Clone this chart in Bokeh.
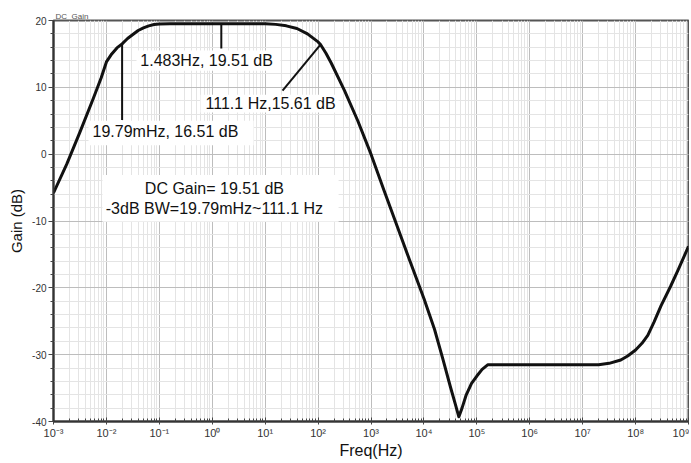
from bokeh.plotting import figure
from bokeh.models import FixedTicker, Label, BoxAnnotation, ColumnDataSource
from bokeh.embed import file_html
from bokeh.resources import INLINE

# ---- data ----
freq_hz = [0.001, 0.00178, 0.00316, 0.00562, 0.00794, 0.01, 0.0126, 0.0158, 0.01979,
           0.0251, 0.0316, 0.0398, 0.0501, 0.0631, 0.0794, 0.1, 0.158, 1.483, 10.0,
           15.85, 25.1, 39.8, 63.1, 79.4, 100.0, 111.1, 141.0, 178.0, 316.0, 562.0,
           1000.0, 1778.0, 3162.0, 5623.0, 10000.0, 15849.0, 22909.0, 31623.0, 39811.0,
           45709.0, 52481.0, 63096.0, 79433.0, 100000.0, 125893.0, 162181.0, 1.0e6,
           1.0e7, 2.0e7, 3.16e7, 5.25e7, 7.08e7, 1.0e8, 1.32e8, 1.7e8, 2.24e8, 3.02e8,
           4.57e8, 6.31e8, 1.0e9]
gain_db = [-5.8, -1.5, 3.3, 8.3, 11.4, 13.8, 15.0, 15.9, 16.51,
           17.3, 17.9, 18.5, 18.9, 19.2, 19.4, 19.48, 19.51, 19.51, 19.5,
           19.42, 19.2, 18.8, 18.0, 17.4, 16.8, 16.4, 15.1, 13.6, 9.5, 5.0,
           0.0, -5.5, -10.9, -16.3, -21.6, -26.2, -30.7, -34.8, -37.6,
           -39.3, -38.0, -36.0, -34.3, -33.2, -32.2, -31.5, -31.5,
           -31.5, -31.5, -31.3, -30.8, -30.2, -29.3, -28.3, -27.1, -25.1, -22.7,
           -19.8, -17.4, -13.8]

x_ticks = [1e-3, 1e-2, 1e-1, 1e0, 1e1, 1e2, 1e3, 1e4, 1e5, 1e6, 1e7, 1e8, 1e9]
x_tick_labels = ["10⁻³", "10⁻²", "10⁻¹", "10⁰", "10¹", "10²", "10³", "10⁴",
                 "10⁵", "10⁶", "10⁷", "10⁸", "10⁹"]
y_ticks = [-40, -30, -20, -10, 0, 10, 20]
y_tick_labels = ["-40", "-30", "-20", "-10", "0", "10", "20"]

marker_freq = [1.483, 0.01979, 111.1]
marker_gain = [19.51, 16.51, 16.4]
marker_texts = ["1.483Hz, 19.51 dB", "19.79mHz, 16.51 dB", "111.1 Hz,15.61 dB"]
summary_texts = ["DC Gain= 19.51 dB", "-3dB BW=19.79mHz~111.1 Hz"]

FONT = "Liberation Sans"

p = figure(width=689, height=461, x_axis_type="log", x_range=(1e-3, 1e9), y_range=(-40, 20),
           output_backend="svg", toolbar_location=None, title="DC_Gain",
           min_border_left=53, min_border_right=1, min_border_top=20, min_border_bottom=38)
p.background_fill_color = "white"
p.border_fill_color = "white"
p.outline_line_color = "#555555"
p.outline_line_width = 2

p.title.text_font = FONT
p.title.text_font_size = "8px"
p.title.text_font_style = "normal"
p.title.text_color = "#555555"
p.title.align = "left"
p.title.offset = 2
p.title.standoff = 0

x_minor = [m * d for d in x_ticks[:-1] for m in range(2, 10)]
p.xaxis.ticker = FixedTicker(ticks=x_ticks, minor_ticks=x_minor)
p.yaxis.ticker = FixedTicker(ticks=y_ticks, minor_ticks=list(range(-40, 21, 2)))
p.xaxis.major_label_overrides = dict(zip(x_ticks, x_tick_labels))
p.yaxis.major_label_overrides = dict(zip(y_ticks, y_tick_labels))

for ax in (p.xaxis[0], p.yaxis[0]):
    ax.axis_line_color = "#333333"
    ax.axis_line_width = 2
    ax.major_tick_line_color = "#444444"
    ax.minor_tick_line_color = "#444444"
    ax.major_label_text_font = FONT
    ax.major_label_text_font_size = "10px"
    ax.major_label_text_color = "#333333"
    ax.axis_label_text_font = FONT
    ax.axis_label_text_font_style = "normal"
    ax.axis_label_text_color = "#111111"

p.xaxis.major_label_text_font_size = "11px"
p.xaxis.major_tick_in = 4
p.xaxis.major_tick_out = 3
p.xaxis.minor_tick_in = 3
p.xaxis.minor_tick_out = 0
p.xaxis.major_label_standoff = 2
p.xaxis.axis_label = "Freq(Hz)"
p.xaxis.axis_label_text_font_size = "16px"
p.xaxis.axis_label_standoff = 0

p.yaxis.major_tick_in = 0
p.yaxis.major_tick_out = 5
p.yaxis.minor_tick_in = 0
p.yaxis.minor_tick_out = 3
p.yaxis.major_label_standoff = 2
p.yaxis.axis_label = "Gain (dB)"
p.yaxis.axis_label_text_font_size = "15px"
p.yaxis.axis_label_standoff = 4

p.xgrid.grid_line_color = "#bdbdbd"
p.ygrid.grid_line_color = "#bdbdbd"
p.xgrid.minor_grid_line_color = "#e4e4e4"
p.ygrid.minor_grid_line_color = "#e4e4e4"

src = ColumnDataSource(dict(f=freq_hz, g=gain_db))
p.line("f", "g", source=src, line_color="#111111", line_width=3, line_join="round")

# pointer lines from the curve to their labels
tail_f = [1.483, 0.01979, 21.3]
tail_g = [15.8, 5.1, 9.5]
p.segment(x0=marker_freq, y0=marker_gain, x1=tail_f, y1=tail_g,
          line_color="#111111", line_width=2)

# white label boxes
boxes = [
    (0.037, 19.5, 15.5, 12.5),
    (0.00459, 6.04, 5.0, 1.34),
    (0.601, 244.0, 8.9, 6.25),
    (0.00843, 244.0, -3.1, -10.1),
]
for l, r, t, b in boxes:
    p.add_layout(BoxAnnotation(left=l, right=r, top=t, bottom=b, fill_color="white",
                               fill_alpha=1.0, line_alpha=0, level="annotation"))

label_pos = [(0.0437, 14.0), (0.00546, 3.4), (0.746, 7.6)]
for (x, y), t in zip(label_pos, marker_texts):
    p.add_layout(Label(x=x, y=y, text=t, text_font=FONT, text_font_size="16px",
                       text_align="left", text_baseline="middle", text_color="#111111"))

for y, t in zip([-5.2, -8.2], summary_texts):
    p.add_layout(Label(x=1.1, y=y, text=t, text_font=FONT, text_font_size="16px",
                       text_align="center", text_baseline="middle", text_color="#111111"))

open("out.html", "w").write(file_html(p, INLINE))
